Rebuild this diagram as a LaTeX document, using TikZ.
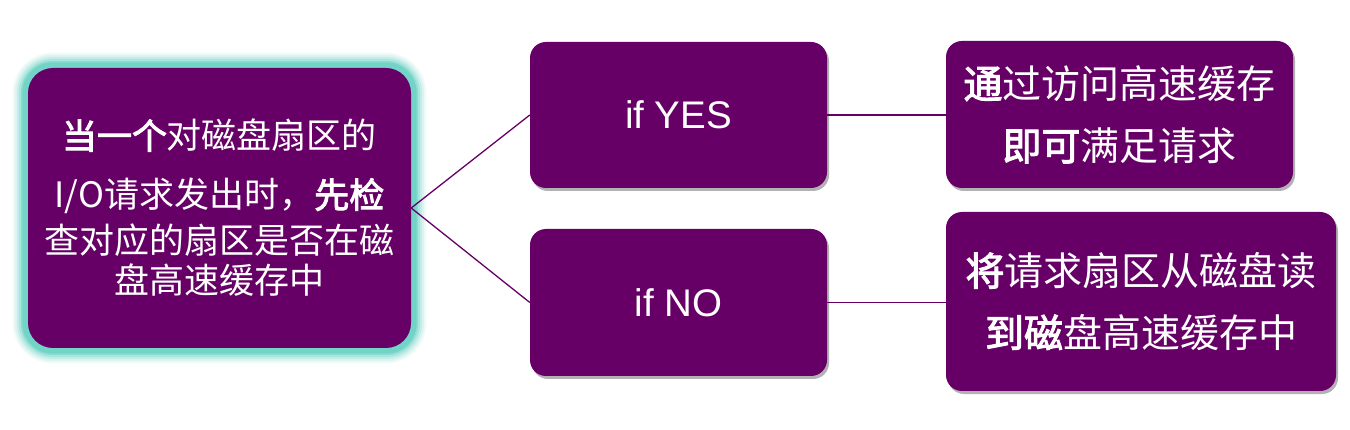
\documentclass[tikz,border=0pt]{standalone}
\usepackage{fontspec}
\setmainfont{Liberation Sans}
\newfontfamily\cjk{Noto Sans CJK SC}[BoldFont={Noto Sans CJK SC}, BoldFeatures={FakeBold=2.6}]
\usetikzlibrary{shadows,backgrounds}
\definecolor{plum}{HTML}{660066}
\definecolor{glowc}{HTML}{6FD3C6}
\tikzset{
  box/.style={fill=plum, text=white, rounded corners=16pt, align=center, inner sep=0pt},
  shbox/.style={box, drop shadow={shadow xshift=2pt, shadow yshift=-3pt, opacity=0.3, fill=black}},
  link/.style={draw=plum, line width=1.3pt},
  glow/.style={draw=glowc, rounded corners=25pt},
}
\begin{document}
\begin{tikzpicture}[x=1pt,y=-1pt]
\useasboundingbox (0,0) rectangle (1350,430);
% question box
\node[box, rounded corners=25pt, minimum width=383pt, minimum height=280pt,
      font=\cjk\fontsize{35}{42}\selectfont] (q) at (219.5,208)
  {\textbf{当一个}对磁盘扇区的\\[17pt]I/O请求发出时，\textbf{先检}\\[4pt]查对应的扇区是否在磁\\[-2pt]盘高速缓存中};
\begin{scope}[on background layer]
  \foreach \w/\o in {30/0.12,26/0.15,22/0.2,18/0.3,14/0.5,11/0.9}{
    \draw[glow, line width=\w pt, opacity=\o] (q.north west) rectangle (q.south east);
  }
\end{scope}
% decision boxes
\node[shbox, minimum width=297pt, minimum height=146pt, font=\fontsize{38.5}{44}\selectfont] (yes) at (678.5,115) {if YES};
\node[shbox, minimum width=297pt, minimum height=147pt, font=\fontsize{38.5}{44}\selectfont] (no) at (678.5,302.5) {if NO};
% result boxes
\node[shbox, minimum width=347pt, minimum height=147pt, font=\cjk\fontsize{39}{62}\selectfont] (a) at (1119.5,114.5)
  {\textbf{通}过访问高速缓存\\\textbf{即可}满足请求};
\node[shbox, minimum width=390pt, minimum height=179pt, font=\cjk\fontsize{39}{62}\selectfont] (b) at (1141,301.5)
  {\textbf{将}请求扇区从磁盘读\\\textbf{到磁}盘高速缓存中};
% connectors
\draw[link] (q.east) -- (yes.west);
\draw[link] (q.east) -- (no.west);
\draw[link] (yes.east) -- (a.west |- yes.east);
\draw[link] (no.east) -- (b.west |- no.east);
\end{tikzpicture}
\end{document}
